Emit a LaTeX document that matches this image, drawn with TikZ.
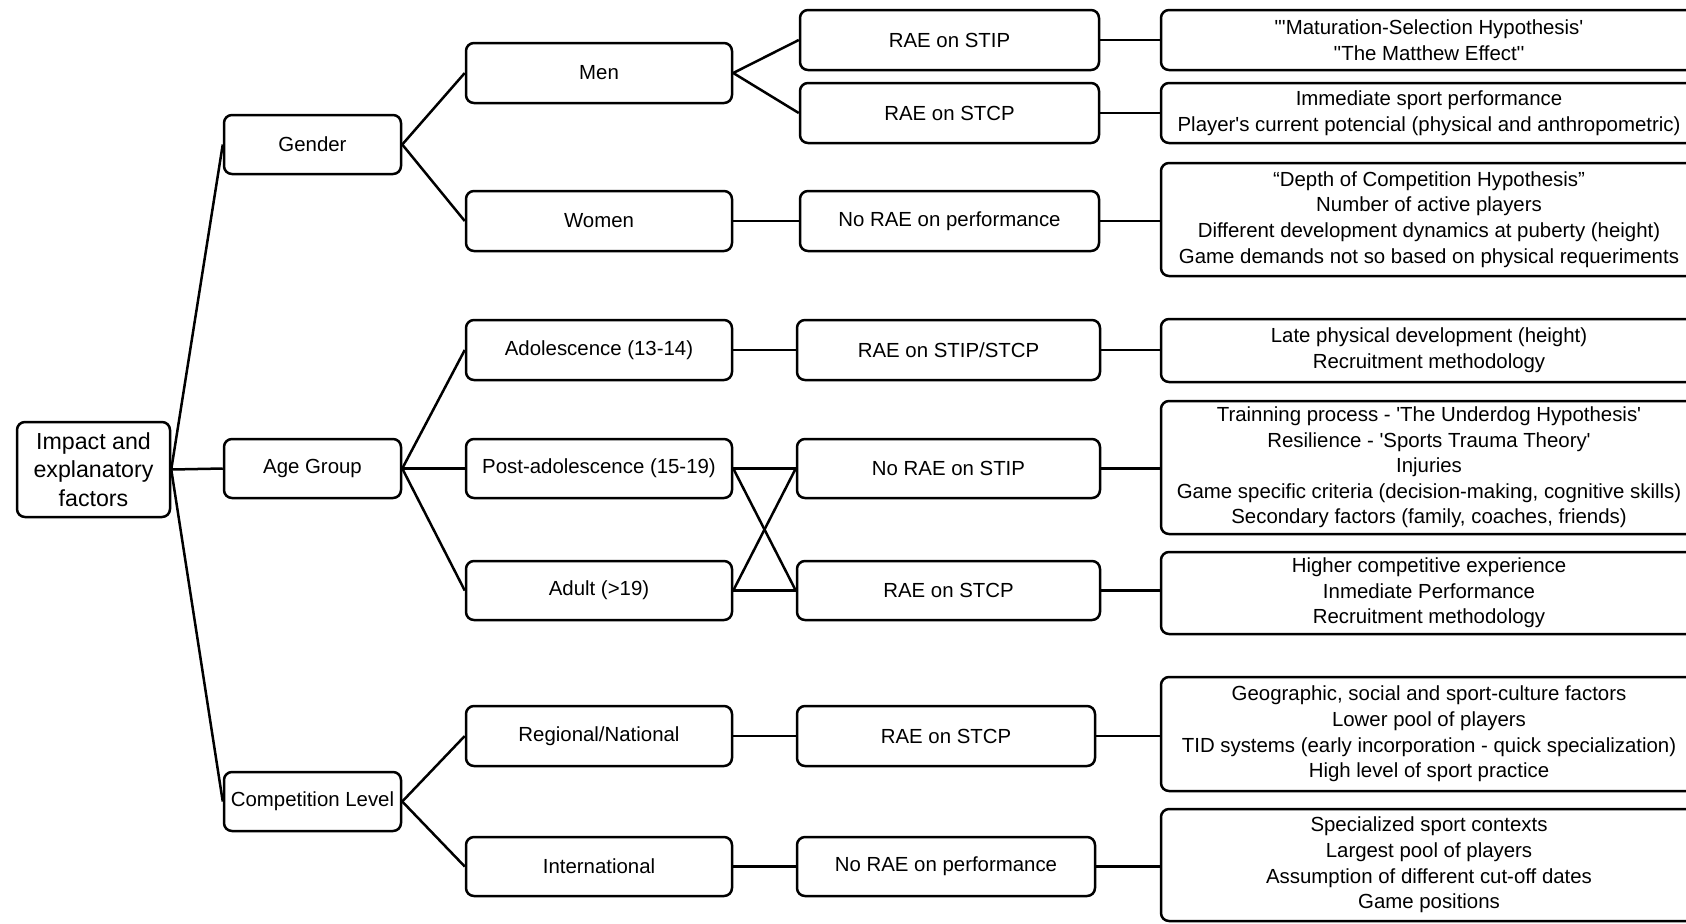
\documentclass[tikz,border=0pt]{standalone}
\usepackage{fontspec}
\setmainfont{Liberation Sans}
\newfontfamily\arialf{Liberation Sans}
\newcommand\bx[7][]{\node[box,#1,minimum width={(#5-#3)*0.5pt},minimum height={(#6-#4)*0.5pt}] (#2) at ({(#3+#5)/2},{(#4+#6)/2}) {#7};}
\begin{document}
\begin{tikzpicture}[x=0.5pt,y=-0.5pt,
  box/.style={draw,rounded corners=4pt,line width=1.25pt,inner sep=0pt,align=center,font=\arialf\fontsize{10.2}{12.8}\selectfont},
  ln/.style={line width=1.25pt}]
\clip (0,0) rectangle (1686,923);
\fill[white] (0,0) rectangle (1686,923);
% root
\bx[font=\arialf\fontsize{11.6}{14.2}\selectfont]{root}{17}{422}{170}{517}{Impact and\\explanatory\\factors}
% column 1
\bx{gender}{224}{115}{401}{174}{Gender}
\bx{age}{224}{439}{401}{498}{Age Group}
\bx{comp}{224}{772}{401}{831}{Competition Level}
% column 2
\bx{men}{466}{43}{732}{103}{Men}
\bx{women}{466}{191}{732}{251}{Women}
\bx{adol}{466}{320}{732}{380}{Adolescence (13-14)}
\bx{post}{466}{439}{732}{498}{Post-adolescence (15-19)}
\bx{adult}{466}{561}{732}{620}{Adult (>19)}
\bx{reg}{466}{706}{732}{766}{Regional/National}
\bx{intl}{466}{837}{732}{896}{International}
% column 3
\bx{stip}{800}{10}{1099}{70}{RAE on STIP}
\bx{stcp}{800}{83}{1099}{143}{RAE on STCP}
\bx{norae}{800}{191}{1099}{251}{No RAE on performance}
\bx{stipstcp}{797}{320}{1100}{380}{RAE on STIP/STCP}
\bx{nostip}{797}{439}{1100}{498}{No RAE on STIP}
\bx{stcpb}{797}{561}{1100}{620}{RAE on STCP}
\bx{stcpc}{797}{706}{1095}{766}{RAE on STCP}
\bx{noraec}{797}{837}{1095}{896}{No RAE on performance}
% column 4
\bx{ra}{1161}{10}{1697}{70}{"'Maturation-Selection Hypothesis'\\''The Matthew Effect''}
\bx{rb}{1161}{83}{1697}{143}{Immediate sport performance\\Player's current potencial (physical and anthropometric)}
\bx{rc}{1161}{163}{1697}{276}{“Depth of Competition Hypothesis”\\Number of active players\\Different development dynamics at puberty (height)\\Game demands not so based on physical requeriments}
\bx{rd}{1161}{319}{1697}{382}{Late physical development (height)\\Recruitment methodology}
\bx{re}{1161}{401}{1697}{534}{Trainning process - 'The Underdog Hypothesis'\\Resilience - 'Sports Trauma Theory'\\Injuries\\Game specific criteria (decision-making, cognitive skills)\\Secondary factors (family, coaches, friends)}
\bx{rf}{1161}{552}{1697}{634}{Higher competitive experience\\Inmediate Performance\\Recruitment methodology}
\bx{rg}{1161}{677}{1697}{791}{Geographic, social and sport-culture factors\\Lower pool of players\\TID systems (early incorporation - quick specialization)\\High level of sport practice}
\bx{rh}{1161}{809}{1697}{921}{Specialized sport contexts\\Largest pool of players\\Assumption of different cut-off dates\\Game positions}
% connectors
\draw[ln] (root.east) -- (gender.west);
\draw[ln] (root.east) -- (age.west);
\draw[ln] (root.east) -- (comp.west);
\draw[ln] (gender.east) -- (men.west);
\draw[ln] (gender.east) -- (women.west);
\draw[ln] (age.east) -- (adol.west);
\draw[ln] (age.east) -- (post.west);
\draw[ln] (age.east) -- (adult.west);
\draw[ln] (comp.east) -- (reg.west);
\draw[ln] (comp.east) -- (intl.west);
\draw[ln] (men.east) -- (stip.west);
\draw[ln] (men.east) -- (stcp.west);
\draw[ln] (women.east) -- (norae.west);
\draw[ln] (adol.east) -- (stipstcp.west);
\draw[ln] (post.east) -- (nostip.west);
\draw[ln] (post.east) -- (stcpb.west);
\draw[ln] (adult.east) -- (stcpb.west);
\draw[ln] (adult.east) -- (nostip.west);
\draw[ln] (reg.east) -- (stcpc.west);
\draw[ln] (intl.east) -- (noraec.west);
\draw[ln] (stip.east) -- (stip.east -| ra.west);
\draw[ln] (stcp.east) -- (stcp.east -| rb.west);
\draw[ln] (norae.east) -- (norae.east -| rc.west);
\draw[ln] (stipstcp.east) -- (stipstcp.east -| rd.west);
\draw[ln] (nostip.east) -- (nostip.east -| re.west);
\draw[ln] (stcpb.east) -- (stcpb.east -| rf.west);
\draw[ln] (stcpc.east) -- (stcpc.east -| rg.west);
\draw[ln] (noraec.east) -- (noraec.east -| rh.west);
\end{tikzpicture}
\end{document}
